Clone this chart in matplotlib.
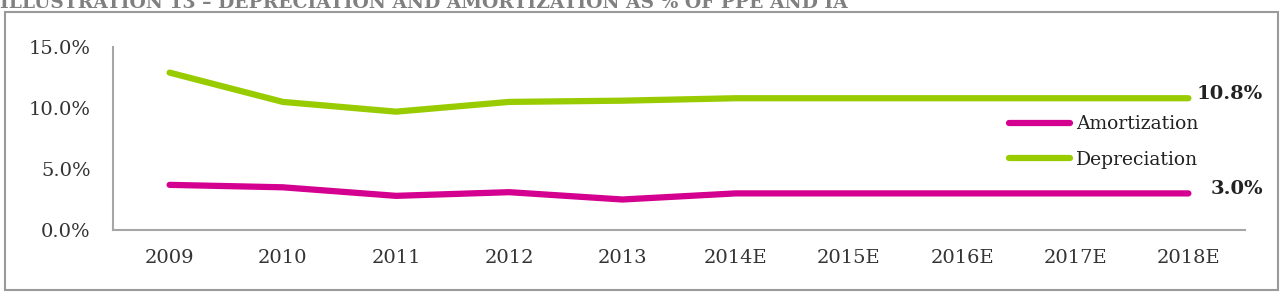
import matplotlib
matplotlib.use('Agg')
import matplotlib.pyplot as plt
from matplotlib.patches import Rectangle
import numpy

years = ['2009', '2010', '2011', '2012', '2013', '2014E', '2015E', '2016E', '2017E', '2018E']
amortization = [3.7, 3.5, 2.8, 3.1, 2.5, 3.0, 3.0, 3.0, 3.0, 3.0]
depreciation = [12.9, 10.5, 9.7, 10.5, 10.6, 10.8, 10.8, 10.8, 10.8, 10.8]

title = 'ILLUSTRATION 13 \u2013 DEPRECIATION AND AMORTIZATION AS % OF PPE AND IA'
green = '#99CC00'
pink = '#D4008F'
grey = '#A6A6A6'

plt.rcParams['font.family'] = 'DejaVu Serif'

W, H = 1284, 293
fig = plt.figure(figsize=(W / 100, H / 100), dpi=100)
ax = fig.add_axes([113 / W, (H - 230) / H, 1132 / W, 183 / H])

x = numpy.arange(len(years))
ax.plot(x, amortization, color=pink, lw=4.5, solid_capstyle='round', label='Amortization')
ax.plot(x, depreciation, color=green, lw=4.5, solid_capstyle='round', label='Depreciation')

ax.set_xlim(-0.5, len(years) - 0.5)
ax.set_ylim(0, 15)
ax.set_xticks(x)
ax.set_xticklabels(years, fontsize=14, color='#333333')
ax.set_yticks([0, 5, 10, 15])
ax.set_yticklabels(['%.1f%%' % v for v in [0, 5, 10, 15]], fontsize=14, color='#333333')
ax.tick_params(axis='x', length=0, pad=14)
ax.tick_params(axis='y', length=0, pad=16)
for s in ['top', 'right']:
    ax.spines[s].set_visible(False)
for s in ['left', 'bottom']:
    ax.spines[s].set_color(grey)
    ax.spines[s].set_linewidth(1.5)

# end labels
ax.annotate('%.1f%%' % depreciation[-1], (x[-1], depreciation[-1]), xytext=(6, 3),
            textcoords='offset points', fontsize=14, fontweight='bold', va='center', color='#222222')
ax.annotate('%.1f%%' % amortization[-1], (x[-1], amortization[-1]), xytext=(16, 3),
            textcoords='offset points', fontsize=14, fontweight='bold', va='center', color='#222222')

leg = ax.legend(loc='upper left', bbox_to_anchor=(0.785, 0.667), frameon=False,
                fontsize=13.5, handlelength=3.25, handletextpad=0.32, labelspacing=0.93,
                borderaxespad=0)
for t in leg.get_texts():
    t.set_color('#222222')

# outer frame and clipped title
fig.patches.append(Rectangle((5 / W, 3 / H), 1273 / W, 278 / H, transform=fig.transFigure,
                             fill=False, edgecolor='#9A9A9A', lw=1.5))
fig.text(0, (H - 7.5) / H, title, fontsize=13.5, fontweight='bold', color='#808080',
         va='baseline', ha='left')

plt.savefig('out.png', dpi=100)
